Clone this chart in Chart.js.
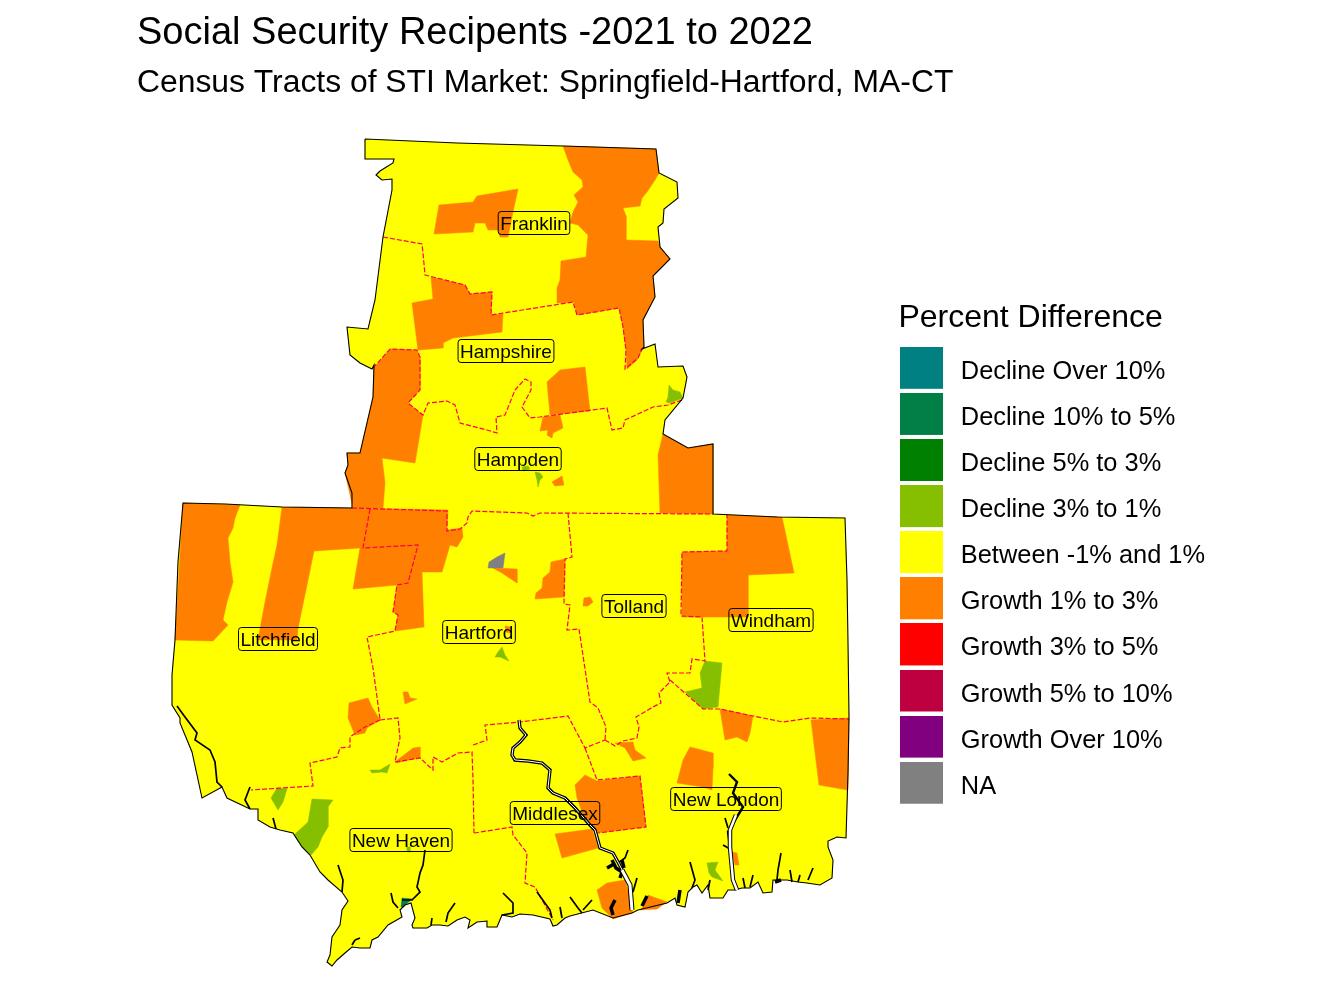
<!DOCTYPE html>
<html>
<head>
<meta charset="utf-8">
<title>Social Security Recipents</title>
<style>body{margin:0;background:#fff}canvas{display:block}</style>
<script src="https://cdn.jsdelivr.net/npm/chart.js@4"></script>
</head>
<body>
<canvas id="myChart" width="1344" height="1008"></canvas>
<script>
// legend
const categories = ["Decline Over 10%", "Decline 10% to 5%", "Decline 5% to 3%", "Decline 3% to 1%", "Between -1% and 1%", "Growth 1% to 3%", "Growth 3% to 5%", "Growth 5% to 10%", "Growth Over 10%", "NA"];
const colors = ["#008080", "#007F46", "#008000", "#85BF00", "#FFFF00", "#FF8000", "#FF0000", "#BF0040", "#800080", "#808080"];

// map outline (map units)
const outline = [[365,139],[457,143],[563,146],[656,149],[659,173],[677,182],[678,198],[664,209],[663,223],[658,227],[660,247],[670,259],[653,276],[655,297],[643,320],[644,347],[642,349],[655,344],[658,367],[683,366],[687,377],[683,398],[665,420],[663,434],[688,448],[713,444],[713,514],[777,517],[845,518],[847,580],[848,643],[849,717],[848,773],[846,838],[837,837],[828,841],[828,847],[833,860],[832,878],[820,885],[807,883],[798,882],[787,880],[773,880],[772,892],[763,893],[758,882],[750,888],[742,888],[735,890],[728,890],[723,898],[710,898],[708,885],[702,893],[697,885],[693,887],[688,892],[685,907],[677,905],[675,898],[667,903],[638,910],[632,913],[613,918],[593,910],[570,916],[565,918],[557,925],[553,926],[550,919],[533,915],[520,914],[512,917],[502,915],[497,927],[487,927],[487,921],[477,922],[468,928],[470,920],[465,917],[457,920],[448,926],[440,925],[432,925],[427,928],[413,928],[412,925],[415,918],[411,903],[405,905],[400,910],[402,917],[388,925],[378,937],[372,940],[370,948],[360,948],[352,947],[345,953],[337,960],[332,966],[327,962],[330,955],[332,937],[340,925],[342,910],[348,901],[342,892],[328,880],[320,872],[310,855],[302,847],[293,833],[280,830],[270,827],[258,820],[258,809],[250,809],[227,798],[222,787],[202,798],[192,752],[180,723],[180,718],[172,705],[172,675],[175,640],[178,562],[183,503],[225,504],[282,507],[352,508],[352,493],[345,473],[348,465],[347,453],[360,453],[373,397],[374,365],[372,369],[360,363],[350,355],[347,327],[368,329],[375,300],[383,237],[392,190],[392,179],[382,180],[376,175],[380,171],[393,163],[394,159],[365,159]];

// tracts by class
const growth1to3 = [
  [[563,146],[656,149],[659,173],[655,180],[647,192],[642,198],[640,206],[623,208],[626,216],[626,240],[658,241],[660,247],[670,259],[653,276],[655,297],[643,320],[644,347],[637,360],[627,369],[626,350],[623,327],[619,308],[577,315],[574,302],[557,303],[557,288],[560,280],[561,261],[586,257],[588,235],[578,225],[570,223],[573,212],[578,202],[574,195],[583,187],[582,180],[573,172],[568,160]],
  [[439,205],[473,202],[477,196],[518,189],[513,212],[508,237],[500,237],[498,230],[488,230],[485,223],[475,223],[473,232],[434,234]],
  [[431,277],[465,285],[470,294],[492,292],[491,315],[503,314],[502,332],[453,338],[443,343],[443,348],[418,350],[412,303],[433,299]],
  [[390,349],[417,350],[420,357],[420,390],[408,403],[423,415],[415,463],[382,458],[385,483],[383,508],[353,508],[345,473],[348,465],[347,453],[360,453],[373,397],[374,368]],
  [[547,382],[560,370],[585,367],[590,411],[550,415]],
  [[543,417],[560,415],[563,428],[553,433],[552,438],[547,435],[548,430],[540,431]],
  [[552,482],[562,476],[564,485],[555,486]],
  [[663,434],[688,448],[713,444],[713,514],[660,513],[658,455]],
  [[183,503],[240,505],[235,518],[233,528],[228,538],[230,562],[233,582],[227,602],[223,620],[228,625],[213,641],[175,640]],
  [[282,507],[352,508],[448,510],[447,530],[462,528],[463,537],[457,547],[450,545],[442,572],[422,572],[424,627],[395,631],[398,615],[393,612],[397,585],[353,589],[360,548],[314,551],[307,585],[298,628],[297,640],[258,640],[265,602],[272,568],[277,545]],
  [[349,703],[368,698],[372,707],[380,720],[367,728],[365,733],[355,735],[348,718]],
  [[403,692],[408,692],[410,698],[417,699],[405,704]],
  [[395,762],[413,748],[420,747],[420,758],[408,760],[397,763]],
  [[493,568],[517,569],[517,583],[502,573]],
  [[551,562],[565,559],[564,597],[535,599],[536,593],[542,588],[543,578],[550,572]],
  [[584,598],[590,597],[593,602],[588,606],[583,606]],
  [[505,626],[510,627],[510,633],[506,632]],
  [[682,552],[727,551],[727,515],[782,517],[794,573],[748,575],[748,617],[682,617]],
  [[720,709],[753,716],[750,733],[747,742],[737,737],[725,740]],
  [[811,720],[849,718],[848,790],[819,785]],
  [[615,743],[633,742],[635,750],[646,758],[633,761],[625,748]],
  [[690,747],[713,753],[713,768],[712,790],[703,787],[677,783],[683,760]],
  [[585,775],[597,781],[640,776],[646,827],[597,833],[585,820],[577,798],[575,785]],
  [[555,834],[592,829],[598,848],[562,858]],
  [[597,890],[607,883],[625,880],[633,910],[632,913],[613,919],[602,908]],
  [[643,907],[648,895],[667,902],[657,909],[640,910]],
  [[732,852],[737,853],[739,865],[735,865]],
];
const decline3to1 = [
  [[705,661],[722,663],[718,707],[703,709],[685,692],[702,688],[700,673]],
  [[707,863],[718,862],[715,870],[723,881],[712,877],[709,873]],
  [[277,788],[287,789],[283,802],[278,810],[271,798]],
  [[312,799],[333,800],[328,807],[328,827],[322,837],[318,847],[311,855],[302,847],[294,835],[308,822]],
  [[370,770],[380,770],[390,764],[387,773],[382,772],[372,773]],
  [[407,847],[410,847],[410,852],[407,852]],
  [[669,385],[673,390],[680,392],[683,398],[670,403],[666,402],[668,397]],
  [[522,467],[528,466],[530,469],[523,471]],
  [[535,472],[540,473],[543,477],[540,480],[538,487],[537,480]],
  [[498,652],[502,647],[505,655],[509,661],[500,657],[495,657]],
];
const decline10to5 = [[[402,898],[412,899],[403,907],[401,907]]];
const noData = [[[488,568],[489,562],[497,557],[505,553],[503,568]]];

// county borders
const countyLines = [
  [[383,237],[422,244],[423,253],[425,275],[465,285],[470,294],[492,292],[491,315],[573,302],[577,315],[619,308],[623,327],[626,350],[625,369],[638,358],[642,349]],
  [[373,368],[390,349],[417,350],[420,357],[420,390],[408,403],[423,415],[428,403],[447,401],[455,405],[460,423],[487,430],[497,433],[496,417],[505,415],[515,390],[525,379],[531,382],[531,390],[522,407],[530,418],[540,417],[607,408],[612,430],[623,428],[625,420],[653,407],[668,405],[682,400]],
  [[352,508],[447,511],[447,531],[460,529],[467,523],[468,517],[472,511],[527,513],[533,516],[540,513],[713,514]],
  [[370,509],[363,548],[418,545],[408,583],[397,585],[393,612],[398,615],[395,631],[367,637],[373,668],[380,719]],
  [[380,720],[398,718],[400,738],[395,762],[420,758],[433,770],[433,757],[442,762],[458,753],[472,752],[473,780],[474,833]],
  [[380,720],[365,727],[350,737],[350,747],[340,748],[337,757],[310,763],[313,786],[251,790]],
  [[474,833],[512,827],[513,835],[527,853],[525,883],[535,887],[553,920]],
  [[473,745],[487,740],[485,725],[520,722],[568,716],[585,748],[605,740]],
  [[585,748],[597,780],[640,776],[646,827],[598,833]],
  [[568,513],[572,557],[565,559],[564,604],[570,605],[567,630],[579,629],[590,702],[598,708],[606,727],[605,740]],
  [[605,740],[615,746],[623,741],[637,738],[639,727],[636,717],[653,707],[661,703],[659,693],[670,682],[667,673],[690,673],[692,659],[705,661],[702,617],[681,616],[682,552],[727,551],[727,515]],
  [[670,680],[703,709],[720,709],[753,716],[783,722],[810,718],[849,719]],
];

// rivers and inlets
const mainRiver = [[519,720],[520,728],[526,735],[520,742],[513,748],[512,755],[515,760],[528,761],[542,763],[550,770],[548,788],[553,793],[565,798],[575,808],[583,817],[590,825],[595,830],[600,848],[613,853],[618,862],[630,885],[632,910]];
const riverMouth = [[622,870],[630,885],[632,910]];
const sideRiver = [[729,774],[737,782],[733,793],[743,807],[732,825],[728,832],[730,847],[732,862],[733,880],[737,890]];
const sideMouth = [[736,815],[730,830],[730,847],[733,880],[737,890]];
const inlets = [
  [[177,706],[185,717],[197,733],[195,740],[210,750],[215,762],[217,782],[222,787]],
  [[725,818],[728,828]],[[723,845],[730,849]],
  [[628,850],[625,858],[618,863]],[[637,878],[633,892]],
  [[570,897],[578,908],[582,913]],[[592,900],[583,910]],[[560,907],[562,918]],
  [[503,893],[513,903],[513,913],[502,915]],
  [[690,862],[695,880],[692,888]],[[710,880],[708,890]],
  [[743,878],[745,888]],[[753,875],[750,887]],[[781,853],[778,870],[777,880]],[[790,870],[792,882]],[[800,875],[798,882]],[[813,868],[808,880]],
  [[338,865],[343,880],[342,892]],
  [[425,850],[423,865],[420,873],[417,887],[420,892],[412,900],[402,900]],
  [[391,893],[393,902],[398,908]],[[455,903],[448,913],[446,922]],[[432,918],[431,925]],
  [[537,892],[550,910],[552,918]],
  [[355,940],[360,938]],[[352,945],[355,940]],
  [[273,818],[276,829]],[[250,787],[245,800],[250,809]],
];
const inletBlobs = [
  [[612,860],[616,868],[622,872],[620,878]],[[607,868],[614,864]],[[622,860],[624,868]],
  [[615,900],[611,908],[613,915]],[[647,896],[642,906]],[[680,890],[678,903]],[[775,882],[781,880]],
];

// county labels
const countyNames = ["Franklin", "Hampshire", "Hampden", "Litchfield", "Hartford", "Tolland", "Windham", "New Haven", "Middlesex", "New London"];
const countyX = [534, 506, 518, 278, 479, 634, 771, 401, 555, 726];
const countyY = [223, 351, 459, 639, 632, 606, 620, 840, 813, 799];

const toPoints = (coords) => coords.map(([x, y]) => ({ x, y }));
const closed = (coords) => toPoints(coords.concat([coords[0]]));

const datasets = [];
const area = (coords, color) => datasets.push({ data: closed(coords), showLine: true, fill: "shape", backgroundColor: color, borderColor: color, borderWidth: 0.5, pointRadius: 0 });
const stroke = (coords, color, width, dash) => datasets.push({ data: toPoints(coords), showLine: true, fill: false, borderColor: color, borderWidth: width, borderDash: dash || [], pointRadius: 0 });

area(outline, colors[4]);
growth1to3.forEach((p) => area(p, colors[5]));
decline3to1.forEach((p) => area(p, colors[3]));
decline10to5.forEach((p) => area(p, colors[1]));
noData.forEach((p) => area(p, colors[9]));
countyLines.forEach((l) => stroke(l, "#FF0040", 1.2, [5, 2]));
stroke(outline.concat([outline[0]]), "#000000", 1.1);
inlets.forEach((l) => stroke(l, "#000000", 1.7));
inletBlobs.forEach((l) => stroke(l, "#000000", 3.5));
stroke(mainRiver, "#000000", 3.4);
stroke(mainRiver, "#FFFFFF", 1);
stroke(riverMouth, "#000000", 5);
stroke(riverMouth, "#FFFFFF", 3);
stroke(sideRiver, "#000000", 2.4);
stroke(sideMouth, "#000000", 4.5);
stroke(sideMouth, "#FFFFFF", 2.5);
datasets.forEach((d, i) => { d.order = -i; });

// legend swatch, drawn off-screen so the box keeps its size
const swatch = (color) => {
  const c = document.createElement("canvas");
  c.width = 43;
  c.height = 50;
  const g = c.getContext("2d");
  g.fillStyle = color;
  g.fillRect(0, 0, 43, 42);
  return c;
};

// boxes with county names
const countyLabels = {
  id: "countyLabels",
  afterDatasetsDraw(chart) {
    const { ctx, scales } = chart;
    ctx.save();
    ctx.font = "19px 'Liberation Sans'";
    ctx.textAlign = "center";
    ctx.textBaseline = "middle";
    countyNames.forEach((name, i) => {
      const x = scales.x.getPixelForValue(countyX[i]);
      const y = scales.y.getPixelForValue(countyY[i]);
      const w = ctx.measureText(name).width + 4;
      ctx.beginPath();
      ctx.roundRect(x - w / 2, y - 11.5, w, 23, 3);
      ctx.strokeStyle = "#000";
      ctx.lineWidth = 1;
      ctx.stroke();
      ctx.fillStyle = "#000";
      ctx.fillText(name, x, y + 2);
    });
    ctx.restore();
  },
};

// the legend title has no inset of its own, line it up with the swatches
const legendTitleInset = {
  id: "legendTitleInset",
  afterInit(chart) {
    const legend = chart.legend;
    const drawTitle = legend.drawTitle;
    legend.drawTitle = function () {
      this.ctx.save();
      this.ctx.translate(25, 0);
      drawTitle.call(this);
      this.ctx.restore();
    };
  },
};

// keep one map unit equal to one pixel
const PAD_LEFT = 137;
const myChart = new Chart(document.getElementById("myChart").getContext("2d"), {
  type: "scatter",
  data: { datasets },
  plugins: [countyLabels, legendTitleInset],
  options: {
    responsive: false,
    animation: false,
    layout: { padding: { left: PAD_LEFT, right: 129 } },
    scales: {
      x: {
        display: false,
        bounds: "data",
        afterDataLimits(s) { s.min = PAD_LEFT; s.max = PAD_LEFT + s.width; },
      },
      y: {
        display: false,
        reverse: true,
        bounds: "data",
        afterDataLimits(s) { s.max = 1008; s.min = 1008 - s.height; },
      },
    },
    plugins: {
      tooltip: { enabled: false },
      title: {
        display: true,
        text: "Social Security Recipents -2021 to 2022",
        align: "start",
        color: "#000",
        font: { family: "'Liberation Sans'", size: 38, weight: "normal" },
        padding: { top: 11, bottom: 0 },
      },
      subtitle: {
        display: true,
        text: "Census Tracts of STI Market: Springfield-Hartford, MA-CT",
        align: "start",
        color: "#000",
        font: { family: "'Liberation Sans'", size: 31.85, weight: "normal" },
        padding: { top: 8, bottom: 0 },
      },
      legend: {
        position: "right",
        align: "start",
        onClick: null,
        title: {
          display: true,
          position: "start",
          text: "Percent Difference",
          color: "#000",
          font: { family: "'Liberation Sans'", size: 32, weight: "normal" },
          padding: { top: 302, bottom: -2 },
        },
        labels: {
          color: "#000",
          font: { family: "'Liberation Sans'", size: 25.4 },
          usePointStyle: true,
          pointStyleWidth: 54,
          padding: 20.7,
          generateLabels: () => categories.map((text, i) => ({ text, pointStyle: swatch(colors[i]), fontColor: "#000", lineWidth: 0 })),
        },
      },
    },
  },
});
</script>
</body>
</html>
